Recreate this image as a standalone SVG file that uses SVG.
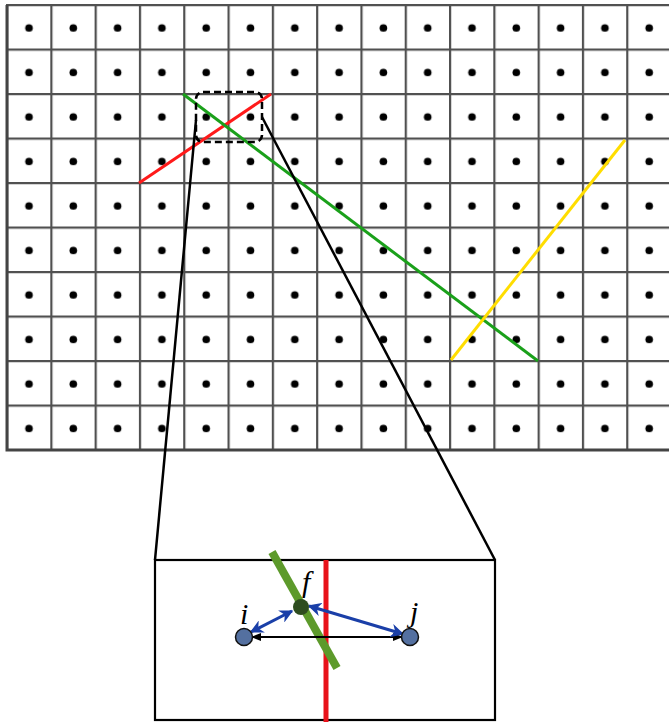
<svg xmlns="http://www.w3.org/2000/svg" width="669" height="722" viewBox="0 0 669 722">
<defs>
<style>
.lbl{font-family:"Liberation Serif","DejaVu Serif",serif;font-style:italic;font-size:30px;fill:#000}
</style>
<marker id="bh" viewBox="0 0 10 10" refX="9" refY="5" markerWidth="4.5" markerHeight="4.5" orient="auto-start-reverse"><path d="M0,0 L10,5 L0,10 L3,5 z" fill="#1a3fa8"/></marker>
<marker id="kh" viewBox="0 0 10 10" refX="9" refY="5" markerWidth="5" markerHeight="5" orient="auto-start-reverse"><path d="M0,1 L10,5 L0,9 z" fill="#000"/></marker>
<pattern id="cells" x="6" y="4" width="44.3" height="44.5" patternUnits="userSpaceOnUse">
<rect x="0" y="0" width="44.3" height="44.5" fill="#fff"/>
<path d="M0,1.1 H44.3 M1.1,0 V44.5" stroke="#505050" stroke-width="2.2" fill="none"/>
<circle cx="23" cy="24" r="3.8" fill="#000"/>
</pattern>
</defs>
<rect width="669" height="722" fill="#fff"/>
<g id="grid">
<rect x="6" y="4" width="663" height="446" fill="url(#cells)"/>
<path d="M7,5 V450 H669" stroke="#444" stroke-width="3" fill="none"/>
</g>
<g id="red-line"><line x1="139" y1="183" x2="271" y2="94" stroke="#ff1a1a" stroke-width="3"/></g>
<g id="green-line"><line x1="183" y1="94" x2="538" y2="361" stroke="#1aa01a" stroke-width="3"/></g>
<g id="yellow-line"><line x1="451" y1="360" x2="625" y2="140" stroke="#ffdd00" stroke-width="3"/></g>
<g id="zoom-box"><rect x="196" y="92" width="66" height="50" rx="7" fill="none" stroke="#000" stroke-width="2.5" stroke-dasharray="7 4"/></g>
<g id="connectors">
<line x1="196" y1="120" x2="155" y2="560" stroke="#000" stroke-width="2.5"/>
<line x1="262" y1="117" x2="495" y2="560" stroke="#000" stroke-width="2.5"/>
</g>
<g id="inset">
<rect x="155" y="560" width="340" height="160" fill="#fff" stroke="#000" stroke-width="2.2"/>
<line x1="326" y1="560" x2="326" y2="722" stroke="#e8121a" stroke-width="5"/>
<line x1="272" y1="552" x2="337" y2="668" stroke="#5d9a2b" stroke-width="8"/>
<line x1="252" y1="637" x2="402" y2="637" stroke="#000" stroke-width="2" marker-start="url(#kh)" marker-end="url(#kh)"/>
<line x1="251" y1="632" x2="292" y2="611" stroke="#1a3fa8" stroke-width="3" marker-start="url(#bh)" marker-end="url(#bh)"/>
<line x1="309" y1="606" x2="403" y2="634" stroke="#1a3fa8" stroke-width="3" marker-start="url(#bh)" marker-end="url(#bh)"/>
</g>
<g id="node-f"><circle cx="301" cy="607" r="8" fill="#2e4d1f"/><text class="lbl" x="302" y="592">f</text></g>
<g id="node-i"><circle cx="244" cy="637" r="8.5" fill="#5470a0" stroke="#111" stroke-width="1.5"/><text class="lbl" x="240" y="624">i</text></g>
<g id="node-j"><circle cx="410" cy="637" r="8.5" fill="#5470a0" stroke="#111" stroke-width="1.5"/><text class="lbl" x="410" y="622">j</text></g>
</svg>
